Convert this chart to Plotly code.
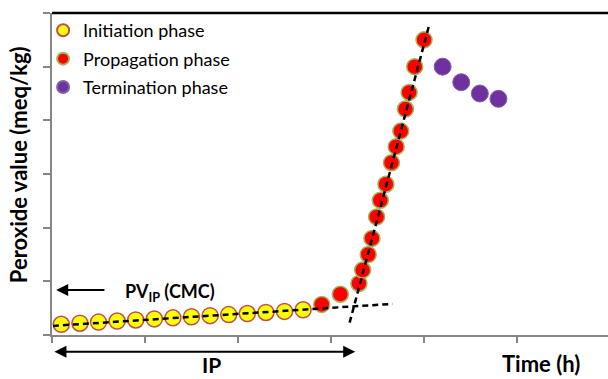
import plotly.graph_objects as go

# ---- data (x in time units, y in peroxide units; tick spacing = 1) ----
init_x = [0.1, 0.3, 0.5, 0.7, 0.9, 1.1, 1.3, 1.5, 1.7, 1.9, 2.1, 2.3, 2.5, 2.7]
init_y = [0.20, 0.22, 0.24, 0.26, 0.28, 0.30, 0.32, 0.34, 0.36, 0.38, 0.40, 0.42, 0.44, 0.47]

prop_x = [2.90, 3.10, 3.30, 3.34, 3.40, 3.44, 3.49, 3.53, 3.59, 3.65, 3.70, 3.75, 3.80, 3.84, 3.90, 4.00]
prop_y = [0.57, 0.76, 0.96, 1.21, 1.50, 1.80, 2.20, 2.51, 2.81, 3.21, 3.51, 3.80, 4.21, 4.52, 5.00, 5.50]

term_x = [4.20, 4.40, 4.60, 4.80]
term_y = [5.00, 4.71, 4.50, 4.40]

init_fit_x = [0.01, 3.66]
init_fit_y = [0.17, 0.58]
prop_fit_x = [3.20, 4.05]
prop_fit_y = [0.23, 5.74]

x_ticks = [0, 1, 2, 3, 4, 5, 6]
y_ticks = [0, 1, 2, 3, 4, 5, 6]

FONT = "Lato"

fig = go.Figure()

fig.add_trace(go.Scatter(
    x=init_x, y=init_y, mode="markers", name="Initiation phase",
    legendgroup="a",
    marker=dict(size=16, color="#FFFF00", line=dict(color="#C0504D", width=1.5)),
))
fig.add_trace(go.Scatter(
    x=prop_x, y=prop_y, mode="markers", name="Propagation phase",
    legendgroup="b",
    marker=dict(size=16, color="#FF0000", line=dict(color="#9BBB59", width=1.5)),
))
fig.add_trace(go.Scatter(
    x=term_x, y=term_y, mode="markers", name="Termination phase",
    legendgroup="c",
    marker=dict(size=17, color="#7030A0", line=dict(color="#8064A2", width=1)),
))
fig.add_trace(go.Scatter(
    x=init_fit_x, y=init_fit_y, mode="lines", showlegend=False,
    line=dict(color="black", width=2.5, dash="6px,4px"),
))
fig.add_trace(go.Scatter(
    x=prop_fit_x, y=prop_fit_y, mode="lines", showlegend=False,
    line=dict(color="black", width=2.5, dash="6px,4px"),
))

axis_common = dict(
    showgrid=False, zeroline=False, showline=True, linecolor="#868686", linewidth=2,
    ticks="outside", tickcolor="#868686", tickwidth=1.5, showticklabels=False,
    tickmode="array",
)

fig.update_layout(
    width=608, height=379,
    margin=dict(l=52, r=0, t=13, b=44),
    plot_bgcolor="white", paper_bgcolor="white",
    font=dict(family=FONT, color="black"),
    xaxis=dict(range=[0, 5.978], tickvals=x_ticks, ticklen=6, **axis_common),
    yaxis=dict(range=[0, 6.0], tickvals=y_ticks, ticklen=7, **axis_common),
    legend=dict(
        x=-0.016, y=1.003, xanchor="left", yanchor="top",
        font=dict(family=FONT, size=18, color="black"),
        itemsizing="constant", tracegroupgap=2, traceorder="grouped",
        bgcolor="rgba(0,0,0,0)",
    ),
    shapes=[dict(type="line", xref="paper", yref="paper", x0=0, x1=1, y0=1, y1=1,
                 line=dict(color="black", width=2.5))],
    annotations=[
        dict(text="<b>Peroxide value (meq/kg)</b>", xref="paper", yref="paper",
             x=-0.059, y=0.528, textangle=-90, showarrow=False,
             xanchor="center", yanchor="middle", font=dict(size=22, family=FONT)),
        dict(text="<b>PV<sub>IP</sub> (CMC)</b>", xref="x", yref="y",
             x=0.76, y=0.80, xanchor="left", yanchor="middle", showarrow=False,
             font=dict(size=18, family=FONT)),
        dict(text="", xref="x", yref="y", axref="x", ayref="y",
             x=0.045, y=0.84, ax=0.58, ay=0.84, showarrow=True,
             arrowhead=2, arrowsize=1.2, arrowwidth=2, arrowcolor="black"),
        dict(text="", xref="x", yref="paper", axref="x", ayref="pixel",
             x=3.26, y=-0.052, ax=0.01, ay=0, showarrow=True,
             arrowhead=2, startarrowhead=2, arrowside="end+start",
             arrowsize=1.2, startarrowsize=1.2, arrowwidth=2, arrowcolor="black"),
        dict(text="<b>IP</b>", xref="x", yref="paper", x=1.717, y=-0.1366,
             xanchor="center", yanchor="bottom", showarrow=False,
             font=dict(size=21, family=FONT)),
        dict(text="<b>Time (h)</b>", xref="x", yref="paper", x=5.26, y=-0.087,
             xanchor="center", yanchor="middle", showarrow=False,
             font=dict(size=22, family=FONT)),
    ],
)

fig.write_html("out.html")
